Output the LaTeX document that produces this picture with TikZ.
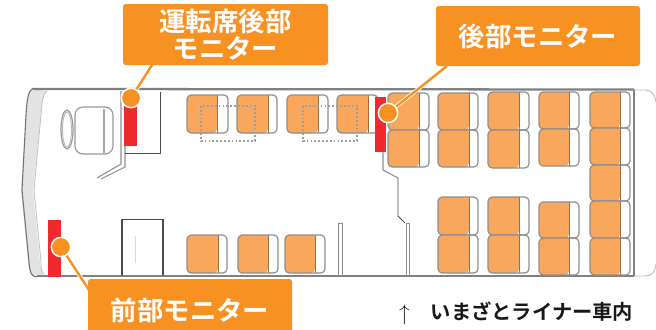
\documentclass[tikz,border=0pt]{standalone}
\usepackage{fontspec}
\newfontfamily\jpb{Noto Sans CJK JP Bold}
\definecolor{boxor}{HTML}{F79122}
\definecolor{seator}{HTML}{F9A75C}
\definecolor{monred}{HTML}{EE2A2E}
\definecolor{linegr}{HTML}{8E8E8E}
\tikzset{
  labelbox/.style={fill=boxor,rounded corners=2pt,inner sep=0pt,align=center,text=white,font=\jpb\fontsize{19.8}{22}\selectfont},
  hubdot/.style={circle,fill=boxor,draw=white,line width=1.1pt,minimum size=14.5pt,inner sep=0pt},
  leader/.style={draw=white,line width=3pt},
  leadercore/.style={draw=boxor,line width=1.8pt},
  monitor/.style={fill=monred,draw=none},
  seatline/.style={draw=linegr,line width=.9pt,rounded corners=3.2pt},
  wall/.style={draw=linegr,line width=.8pt},
  darkwall/.style={draw=black!70,line width=.7pt},
  dotted box/.style={draw=black!38,line width=1.3pt,dash pattern=on 1.3pt off 1.6pt},
}
\newcommand{\seat}[5]{% x1 y1 x2 y2 xo
  \fill[seator,rounded corners=3.2pt] (#5,#2) -- (#1,#2) -- (#1,#4) -- (#5,#4) [sharp corners] -- cycle;
  \draw[draw=black!35!seator,line width=.7pt] (#5,#2) -- (#5,#4);
  \draw[seatline] (#1,#2) rectangle (#3,#4);
}
\begin{document}
\begin{tikzpicture}[x=.75pt,y=-.75pt]
\useasboundingbox (0,0) rectangle (656,329);
\clip (0,0) rectangle (656,329);
\fill[white] (0,0) rectangle (656,329);
% body shell
\fill[black!11] (32,89) .. controls (28,92) and (27,100) .. (26,115) -- (21,190) -- (28,262) .. controls (29,272) and (30,277) .. (36,277) -- (44,274) .. controls (41,272) and (41,268) .. (40,262) -- (33,190) -- (42,104) .. controls (43,97) and (44,93) .. (47,91) -- cycle;
\draw[black!55,line width=.8pt] (33,88) .. controls (28,91) and (27,100) .. (26,115) -- (22,190) -- (29,262) .. controls (30,272) and (31,277) .. (37,277);
\draw[black!25,line width=.6pt] (47,91) .. controls (44,93) and (43,97) .. (42,104) -- (34,190) -- (41,262) .. controls (41,268) and (41,272) .. (44,274);
\draw[black!50,line width=1.7pt] (33,89) -- (634,89.5);
\draw[black!50,line width=1.7pt] (37,276) -- (634,276);
\draw[black!25,line width=.7pt] (634,90) -- (645,90) .. controls (652,90) and (655,95) .. (656,102);
\draw[black!25,line width=.7pt] (634,276) -- (645,276) .. controls (652,276) and (655,272) .. (656,264);
\draw[black!50,line width=1.2pt] (634,90) -- (634,276);
% driver seat and wheel
\draw[black!40,line width=.9pt] (67,129.5) ellipse [x radius=6,y radius=19.5];
\draw[black!28,line width=.7pt] (67,129.5) ellipse [x radius=4.5,y radius=17.5];
\draw[black!40,line width=.9pt,rounded corners=6pt] (75,107) rectangle (113,154);
\draw[black!35,line width=1pt] (104,109) -- (104,153);
% partition behind driver
\draw[wall] (121,91) -- (121,164) -- (97,178);
\draw[wall] (125,146) -- (125,167) -- (101,179);
\draw[darkwall] (160,92) -- (160,153.5) -- (125,153.5);
% door
\draw[draw=black!70,line width=.8pt] (122,275) -- (122,219.5) -- (163,219.5) -- (163,275);
\draw[black!15,line width=.6pt] (135,236) -- (135,263);
% aisle wall on rear
\draw[wall] (383,97) -- (383,170) -- (398,178);
\draw[darkwall] (398,178) -- (398,216) -- (405,223);
\draw[black!45,line width=.7pt] (406,223) rectangle (409,275);
\draw[black!45,line width=.7pt] (338.5,223) rectangle (342,275);
% seats, front rows
\seat{187}{95}{228}{133}{217}
\seat{237}{95}{277}{133}{268}
\seat{287}{95}{328}{133}{318}
\seat{337}{95}{378}{133}{368}
\seat{187}{235}{227}{273}{218}
\seat{238}{235}{278}{273}{268}
\seat{285}{235}{325}{273}{315}
% seats, rear rows
\seat{388}{93}{429}{130}{419}
\seat{388}{130}{429}{167}{419}
\seat{438}{93}{478}{130}{469}
\seat{438}{130}{478}{167}{469}
\seat{488}{92}{529}{130}{519}
\seat{488}{130}{529}{168}{519}
\seat{539}{92}{579}{129}{569}
\seat{539}{129}{579}{166}{569}
\seat{590}{92}{630}{128}{620}
\seat{590}{128}{630}{165}{620}
\seat{590}{165}{630}{201}{620}
\seat{590}{201}{630}{238}{620}
\seat{590}{238}{630}{275}{620}
\seat{438}{197}{478}{235}{469}
\seat{438}{235}{478}{273}{469}
\seat{488}{197}{529}{235}{519}
\seat{488}{235}{529}{273}{519}
\seat{539}{202}{579}{238}{569}
\seat{539}{238}{579}{275}{569}
% dotted rectangles
\draw[dotted box] (201,106) rectangle (255,141);
\draw[dotted box] (303,106) rectangle (357,141);
% monitors
\fill[monitor] (124,104) rectangle (137,146);
\fill[monitor] (375,97) rectangle (386,152);
\fill[monitor] (48,220) rectangle (60.5,277);
% leaders, under the dots and boxes
\coordinate (hubdriver) at (131,98);
\coordinate (hubrear) at (388,113);
\coordinate (hubfront) at (61,247);
\coordinate (enddriver) at (152,65);
\coordinate (endrear) at (447,66);
\coordinate (endfront) at (89,290);
\draw[leader] (hubdriver) -- (enddriver);
\draw[leader] (hubrear) -- (endrear);
\draw[leader] (hubfront) -- (endfront);
\draw[leadercore] (hubdriver) -- (enddriver);
\draw[leadercore] (hubrear) -- (endrear);
\draw[leadercore] (hubfront) -- (endfront);
% hub dots
\node[hubdot] (dotdriver) at (hubdriver) {};
\node[hubdot] (dotrear) at (hubrear) {};
\node[hubdot] (dotfront) at (hubfront) {};
% label boxes
\node[labelbox,minimum width=153.75pt,minimum height=45.75pt] (boxdriver) at (225.5,34.5) {運転席後部\\[-1.5pt]モニター};
\node[labelbox,minimum width=153pt,minimum height=45pt] (boxrear) at (538,36) {後部モニター};
\node[labelbox,minimum width=153pt,minimum height=45pt] (boxfront) at (190,309) {};
\node[text=white,font=\jpb\fontsize{19.8}{22}\selectfont,inner sep=0pt] (txtfront) at (190,310) {前部モニター};
% caption
\node[font=\fontsize{17}{18}\selectfont,inner sep=0pt] (arrowmark) at (404.5,315) {↑};
\node[font=\jpb\fontsize{15.2}{18}\selectfont,text=black!90,inner sep=0pt] (caption) at (532,312) {いまざとライナー車内};
\end{tikzpicture}
\end{document}
